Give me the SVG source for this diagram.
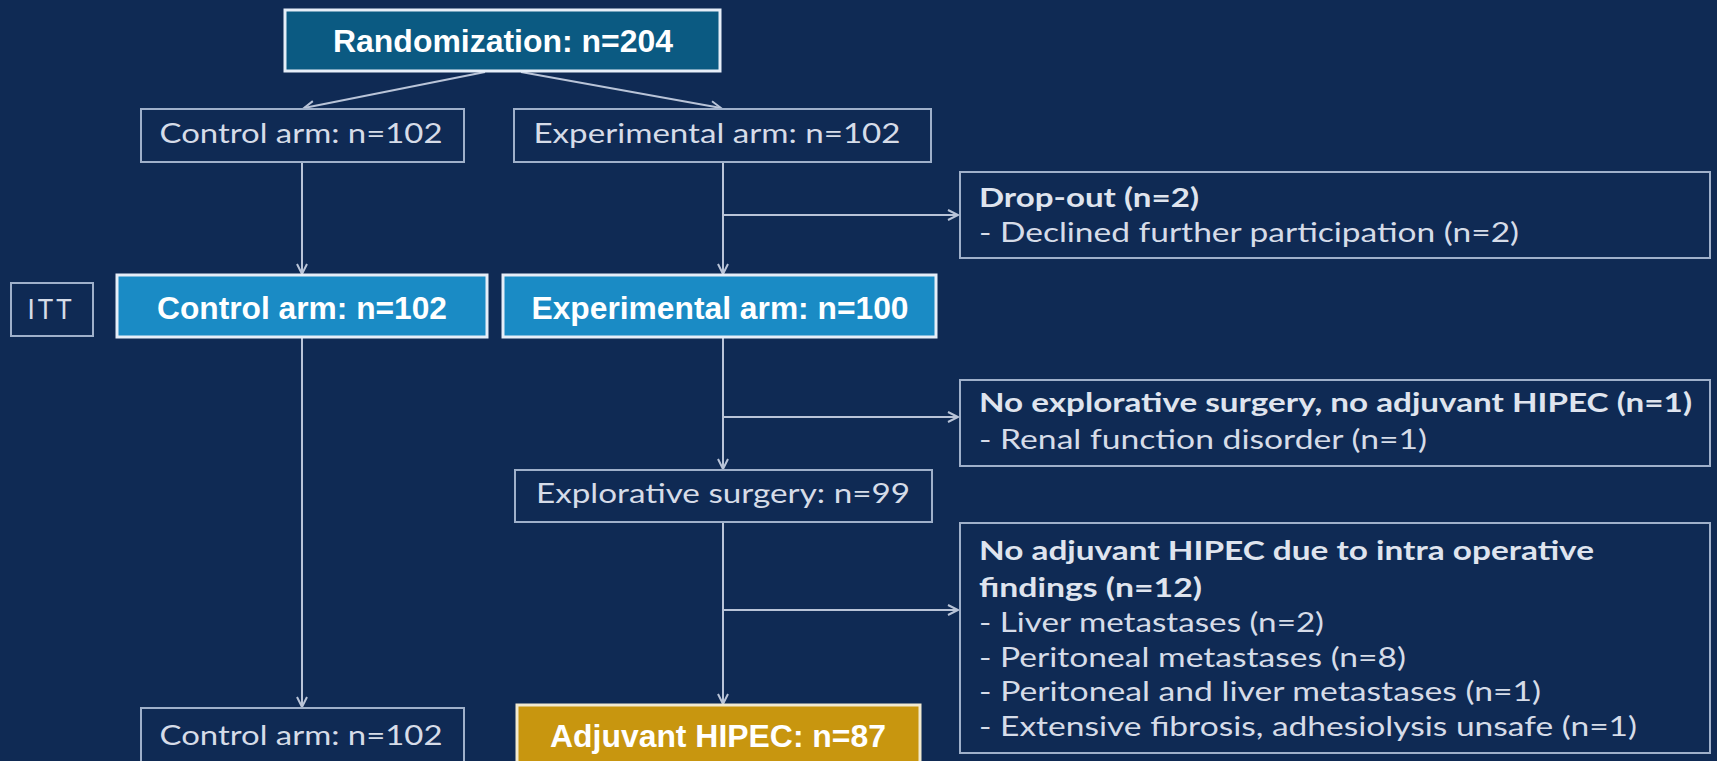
<svg xmlns="http://www.w3.org/2000/svg" width="1717" height="761" viewBox="0 0 1717 761">
<defs>
<marker id="arr" markerWidth="14" markerHeight="14" refX="11" refY="6" orient="auto" markerUnits="userSpaceOnUse">
<path d="M1,1 L11,6 L1,11" fill="none" stroke="#b9c4d8" stroke-width="2"/>
</marker>
<style>
.bg{fill:#0f2a54}
.thin{fill:#0f2a54;stroke:#9fb0ca;stroke-width:2}
.rand{fill:#0b5a82;stroke:#e6eef8;stroke-width:3}
.itt{fill:#1a8bc5;stroke:#e6eef8;stroke-width:3}
.gold{fill:#c8960f;stroke:#f2ead0;stroke-width:3}
.reg{font-family:Lato,"Liberation Sans",sans-serif;font-size:26px;fill:#d6dce8}
.regb{font-family:Lato,"Liberation Sans",sans-serif;font-size:26px;font-weight:bold;fill:#dfe4ee}
.big{font-family:"Liberation Sans",Arial,sans-serif;font-size:31px;font-weight:bold;fill:#ffffff;text-anchor:middle}
.mid{text-anchor:middle}
.ln{stroke:#b9c4d8;stroke-width:2;fill:none}
</style>
</defs>
<rect class="bg" x="0" y="0" width="1717" height="761"/>

<g id="connectors">
<line class="ln" x1="485" y1="72" x2="304" y2="108" marker-end="url(#arr)"/>
<line class="ln" x1="521" y1="72" x2="721" y2="108" marker-end="url(#arr)"/>
<line class="ln" x1="302" y1="162" x2="302" y2="274" marker-end="url(#arr)"/>
<line class="ln" x1="723" y1="162" x2="723" y2="274" marker-end="url(#arr)"/>
<line class="ln" x1="723" y1="215" x2="958" y2="215" marker-end="url(#arr)"/>
<line class="ln" x1="302" y1="337" x2="302" y2="707" marker-end="url(#arr)"/>
<line class="ln" x1="723" y1="337" x2="723" y2="469" marker-end="url(#arr)"/>
<line class="ln" x1="723" y1="417" x2="958" y2="417" marker-end="url(#arr)"/>
<line class="ln" x1="723" y1="522" x2="723" y2="704" marker-end="url(#arr)"/>
<line class="ln" x1="723" y1="610" x2="958" y2="610" marker-end="url(#arr)"/>
</g>

<g id="randomization">
<rect class="rand" x="285" y="10" width="435" height="61"/>
<text class="big" x="503" y="52" textLength="340" lengthAdjust="spacingAndGlyphs">Randomization: n=204</text>
</g>

<g id="control-arm-1">
<rect class="thin" x="141" y="109" width="323" height="53"/>
<text class="reg mid" x="301" y="143" textLength="283" lengthAdjust="spacingAndGlyphs">Control arm: n=102</text>
</g>

<g id="experimental-arm-1">
<rect class="thin" x="514" y="109" width="417" height="53"/>
<text class="reg mid" x="717" y="143" textLength="367" lengthAdjust="spacingAndGlyphs">Experimental arm: n=102</text>
</g>

<g id="dropout">
<rect class="thin" x="960" y="172" width="750" height="86"/>
<text class="regb" x="979" y="207" textLength="220" lengthAdjust="spacingAndGlyphs">Drop-out (n=2)</text>
<text class="reg" x="979" y="242" textLength="540" lengthAdjust="spacingAndGlyphs">- Declined further participation (n=2)</text>
</g>

<g id="itt-label">
<rect class="thin" x="11" y="283" width="82" height="53"/>
<text class="reg mid" x="51" y="319" font-size="21" letter-spacing="3">ITT</text>
</g>

<g id="control-arm-itt">
<rect class="itt" x="117" y="275" width="370" height="62"/>
<text class="big" x="302" y="319" textLength="290" lengthAdjust="spacingAndGlyphs">Control arm: n=102</text>
</g>

<g id="experimental-arm-itt">
<rect class="itt" x="503" y="275" width="433" height="62"/>
<text class="big" x="720" y="319" textLength="377" lengthAdjust="spacingAndGlyphs">Experimental arm: n=100</text>
</g>

<g id="no-explorative">
<rect class="thin" x="960" y="380" width="750" height="86"/>
<text class="regb" x="979" y="412" textLength="713" lengthAdjust="spacingAndGlyphs">No explorative surgery, no adjuvant HIPEC (n=1)</text>
<text class="reg" x="979" y="449" textLength="448" lengthAdjust="spacingAndGlyphs">- Renal function disorder (n=1)</text>
</g>

<g id="explorative-surgery">
<rect class="thin" x="515" y="470" width="417" height="52"/>
<text class="reg mid" x="723" y="503" textLength="374" lengthAdjust="spacingAndGlyphs">Explorative surgery: n=99</text>
</g>

<g id="no-hipec-findings">
<rect class="thin" x="960" y="523" width="750" height="230"/>
<text class="regb" x="979" y="560" textLength="615" lengthAdjust="spacingAndGlyphs">No adjuvant HIPEC due to intra operative</text>
<text class="regb" x="979" y="597" textLength="223" lengthAdjust="spacingAndGlyphs">findings (n=12)</text>
<text class="reg" x="979" y="632" textLength="345" lengthAdjust="spacingAndGlyphs">- Liver metastases (n=2)</text>
<text class="reg" x="979" y="667" textLength="427" lengthAdjust="spacingAndGlyphs">- Peritoneal metastases (n=8)</text>
<text class="reg" x="979" y="701" textLength="562" lengthAdjust="spacingAndGlyphs">- Peritoneal and liver metastases (n=1)</text>
<text class="reg" x="979" y="736" textLength="658" lengthAdjust="spacingAndGlyphs">- Extensive fibrosis, adhesiolysis unsafe (n=1)</text>
</g>

<g id="control-arm-final">
<rect class="thin" x="141" y="708" width="323" height="70"/>
<text class="reg mid" x="301" y="745" textLength="283" lengthAdjust="spacingAndGlyphs">Control arm: n=102</text>
</g>

<g id="adjuvant-hipec">
<rect class="gold" x="517" y="705" width="403" height="70"/>
<text class="big" x="718" y="747" textLength="336" lengthAdjust="spacingAndGlyphs">Adjuvant HIPEC: n=87</text>
</g>
</svg>
